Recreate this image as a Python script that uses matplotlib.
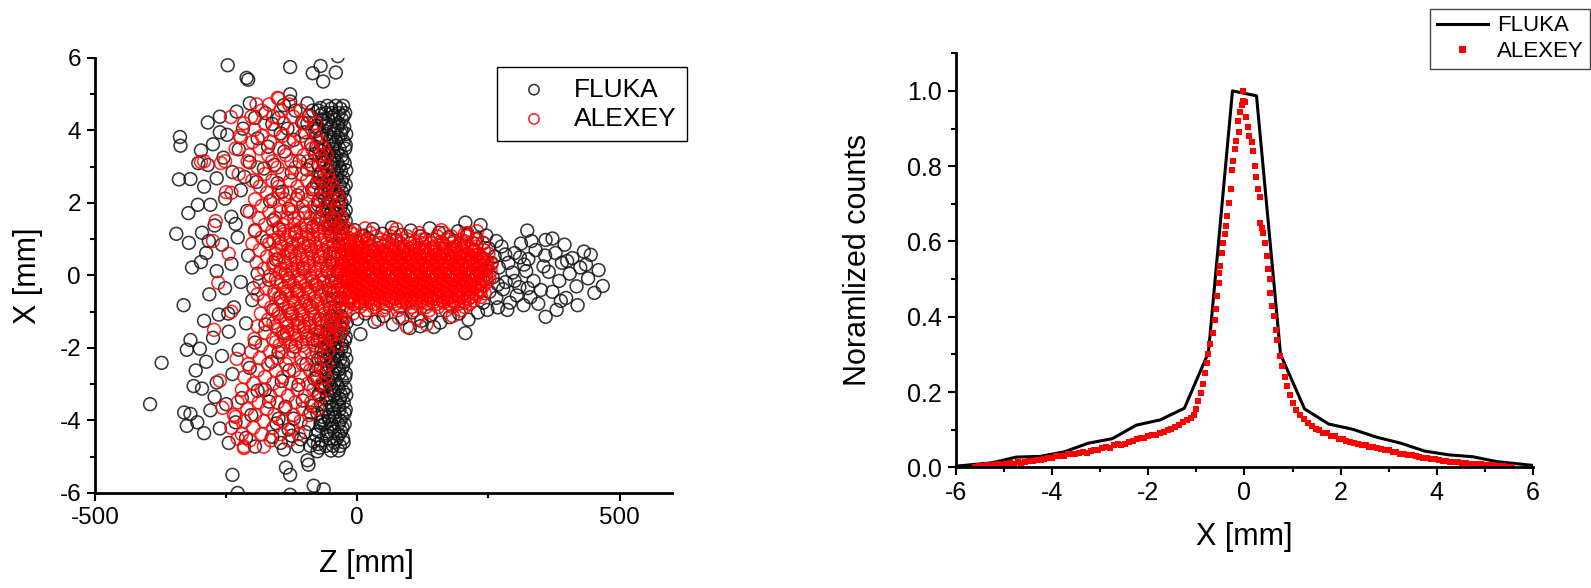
import numpy as np
import matplotlib.pyplot as plt
from matplotlib.ticker import MultipleLocator, FixedLocator, FormatStrFormatter

plt.rcParams['font.family'] = ['Liberation Sans', 'DejaVu Sans']
plt.rcParams['axes.unicode_minus'] = False

# ------------------------------------------------------------------
# left panel: particle positions, z [mm] vs x [mm]
# dense parts are stored as rows (x, [z, z, ...]), sparse parts as (z, x)
# ------------------------------------------------------------------
fluka_band_rows = [
    (4.68, [-57, -41, -27]), (4.60, [-50, -32]), (4.48, [-60, -48, -35, -23]),
    (4.40, [-45, -26]), (4.30, [-55, -42, -29]), (4.20, [-58, -36]),
    (4.10, [-62, -50, -37, -25]), (4.00, [-44, -30]), (3.90, [-58, -44, -31, -21]),
    (3.80, [-51, -36]), (3.70, [-53, -40, -26]), (3.60, [-46, -22]),
    (3.50, [-61, -47, -34, -23]), (3.40, [-54, -38]), (3.30, [-56, -43, -30]),
    (3.20, [-44, -28]), (3.10, [-63, -50, -38, -24]), (3.00, [-50, -35]),
    (2.90, [-57, -44, -31, -21]), (2.80, [-63, -38]), (2.70, [-52, -39, -27]),
    (2.60, [-45, -30]), (2.50, [-60, -47, -34, -22]), (2.40, [-53, -26]),
    (2.30, [-55, -42, -29]), (2.20, [-47, -35]), (2.10, [-62, -49, -36, -24]),
    (2.00, [-55, -30]), (1.90, [-57, -44, -31]), (1.80, [-48, -22]),
    (1.70, [-52, -39, -26]), (1.60, [-43, -28]), (1.50, [-59, -46, -33, -22]),
    (1.40, [-50, -36]), (1.30, [-55, -41, -28]), (1.10, [-50, -33]),
    (0.85, [-45, -28]), (0.60, [-52, -36]), (0.35, [-47, -30]), (0.10, [-55, -38]),
    (-0.15, [-49, -32]), (-0.40, [-54, -37]), (-0.65, [-46, -29]),
    (-0.90, [-52, -35]), (-1.12, [-48, -31]), (-1.30, [-57, -43, -29, -20]),
    (-1.40, [-47, -33]), (-1.50, [-53, -40, -26]), (-1.60, [-55, -31]),
    (-1.70, [-61, -47, -34, -22]), (-1.80, [-49, -24]), (-1.90, [-56, -42, -29]),
    (-2.00, [-44, -30]), (-2.10, [-63, -50, -37, -24]), (-2.20, [-52, -38]),
    (-2.30, [-58, -45, -32, -21]), (-2.40, [-46, -27]), (-2.50, [-53, -40, -27]),
    (-2.60, [-58, -35]), (-2.70, [-60, -47, -34, -22]), (-2.80, [-48, -23]),
    (-2.90, [-55, -42, -29]), (-3.00, [-53, -38]), (-3.10, [-62, -49, -36, -23]),
    (-3.20, [-45, -27]), (-3.30, [-57, -44, -31, -21]), (-3.40, [-59, -33]),
    (-3.50, [-52, -39, -26]), (-3.60, [-48, -35]), (-3.70, [-60, -47, -34, -22]),
    (-3.80, [-44, -24]), (-3.90, [-55, -42, -29]), (-4.00, [-53, -33]),
    (-4.10, [-62, -49, -36, -24]), (-4.20, [-47, -28]), (-4.30, [-57, -44, -31]),
    (-4.40, [-58, -35]), (-4.50, [-52, -39, -27]), (-4.60, [-44, -26]),
    (-4.70, [-60, -46, -33]), (-4.83, [-50, -36]),
]

fluka_band_edge = [
    (-74, 4.55), (-68, 4.30), (-76, 4.05), (-70, 3.80), (-78, 3.55), (-67, 3.30),
    (-74, 3.05), (-70, 2.80), (-77, 2.55), (-69, 2.30), (-74, 2.05), (-66, 1.80),
    (-72, 1.55), (-70, -1.55), (-76, -1.80), (-68, -2.05), (-74, -2.30),
    (-70, -2.55), (-77, -2.80), (-67, -3.05), (-73, -3.30), (-69, -3.55),
    (-76, -3.80), (-70, -4.05), (-74, -4.30), (-68, -4.55), (-72, -4.75),
]

fluka_halo = [
    (-70, 4.62), (-92, 4.41), (-118, 4.55), (-150, 4.35), (-175, 4.48),
    (-78, 4.12), (-105, 4.22), (-133, 4.05), (-162, 4.18), (-68, 3.82),
    (-88, 3.61), (-121, 3.74), (-146, 3.92), (-170, 3.55), (-81, 3.35),
    (-110, 3.15), (-139, 3.42), (-158, 3.05), (-96, 2.92), (-72, 2.70),
    (-125, 2.84), (-152, 2.55), (-178, 2.95), (-86, 2.38), (-113, 2.21),
    (-143, 2.31), (-166, 2.05), (-75, 1.95), (-99, 1.72), (-131, 1.84),
    (-160, 1.52), (-84, 1.35), (-117, 1.18), (-148, 1.27), (-172, 0.95),
    (-93, 0.82), (-126, 0.65), (-155, 0.44), (-70, 0.52), (-104, 0.21),
    (-137, 0.05), (-168, -0.12), (-80, -0.25), (-115, -0.43), (-146, -0.61),
    (-91, -0.82), (-124, -1.05), (-160, -0.95), (-73, -1.22), (-101, -1.41),
    (-134, -1.58), (-175, -1.35), (-85, -1.75), (-118, -1.96), (-150, -2.12),
    (-69, -2.28), (-97, -2.45), (-130, -2.62), (-163, -2.38), (-82, -2.85),
    (-112, -3.02), (-144, -2.91), (-176, -3.15), (-74, -3.28), (-104, -3.45),
    (-137, -3.62), (-168, -3.48), (-89, -3.78), (-121, -3.95), (-154, -4.08),
    (-70, -4.15), (-99, -4.32), (-131, -4.25), (-162, -4.45), (-83, -4.58),
    (-113, -4.71), (-146, -4.62), (-76, -4.85), (-108, -4.52), (-95, 4.75),
    (-128, 4.80), (-66, 4.30), (-140, 4.70), (-100, 3.95), (-65, 3.20),
    (-90, -4.70), (-125, -4.42), (-67, -3.90), (-140, -4.80), (-150, -3.95),
    (-68, 4.45), (-80, 3.98), (-72, 3.45), (-88, 3.05), (-66, 2.55),
    (-78, -2.60), (-70, -3.05), (-86, -3.60), (-66, -4.00), (-79, -4.40),
    (-92, -4.10), (-95, 4.20), (-85, 4.55), (-75, -4.65),
    (-205, 4.75), (-230, 4.52), (-262, 4.38), (-285, 4.22), (-195, 4.35),
    (-218, 4.05), (-248, 3.88), (-275, 3.62), (-298, 3.45), (-190, 3.78),
    (-226, 3.48), (-255, 3.25), (-285, 3.05), (-205, 3.12), (-238, 2.85),
    (-268, 2.68), (-292, 2.45), (-192, 2.58), (-222, 2.35), (-252, 2.12),
    (-280, 1.95), (-210, 1.78), (-240, 1.62), (-272, 1.38), (-296, 1.18),
    (-195, 1.25), (-228, 1.05), (-258, 0.85), (-288, 0.62), (-208, 0.55),
    (-240, 0.32), (-268, 0.12), (-190, 0.05), (-222, -0.18), (-252, -0.35),
    (-282, -0.52), (-200, -0.68), (-235, -0.88), (-264, -1.08), (-292, -1.25),
    (-212, -1.32), (-245, -1.55), (-275, -1.72), (-195, -1.85), (-226, -2.05),
    (-258, -2.22), (-288, -2.38), (-205, -2.55), (-238, -2.72), (-268, -2.95),
    (-296, -3.12), (-190, -3.18), (-220, -3.38), (-250, -3.55), (-280, -3.72),
    (-202, -3.85), (-232, -4.05), (-262, -4.22), (-292, -4.35), (-212, -4.48),
    (-245, -4.62), (-195, -4.72), (-272, -3.35), (-300, -2.02), (-283, 0.95),
    (-262, 3.95), (-215, 2.72), (-246, -1.05), (-198, -0.35), (-232, 1.42),
    (-338, 3.82), (-337, 3.58), (-318, 2.66), (-322, 1.72), (-304, 1.95),
    (-321, 0.90), (-298, 0.37), (-315, 0.22), (-331, -0.82), (-373, -2.41),
    (-318, -1.78), (-325, -2.05), (-308, -2.62), (-395, -3.55), (-330, -3.78),
    (-318, -3.82), (-325, -4.15), (-305, -4.05), (-340, 2.65), (-312, -3.05),
    (-345, 1.15), (-303, 3.10),
]

fluka_beam = [
    (-5, 1.25), (12, 1.10), (30, 1.28), (48, 1.15), (66, 1.32), (84, 1.12),
    (102, 1.24), (120, 1.08), (138, 1.30), (156, 1.18), (174, 1.05), (192, 1.22),
    (210, 1.12), (228, 1.02), (246, 1.10), (265, 0.95), (20, 1.02), (75, 0.98),
    (130, 1.00), (185, 0.95), (240, 0.90), (206, 1.46), (235, 1.39),
    (0, -1.20), (15, -1.05), (33, -1.28), (50, -1.12), (68, -1.35), (86, -1.18),
    (104, -1.02), (122, -1.25), (140, -1.10), (158, -1.30), (176, -1.15),
    (194, -1.05), (212, -1.22), (230, -1.02), (248, -0.95), (268, -0.88),
    (6, -1.62), (146, -1.42), (206, -1.59), (120, -1.40), (100, -1.45),
    (250, 0.75), (262, 0.52), (275, 0.80), (288, 0.35), (300, 0.62), (312, 0.88),
    (326, 0.45), (340, 0.70), (355, 0.25), (245, 0.15), (258, -0.05), (270, 0.22),
    (283, -0.18), (296, 0.08), (309, -0.32), (322, 0.12), (336, -0.15),
    (350, -0.40), (252, -0.45), (265, -0.62), (278, -0.38), (291, -0.75),
    (304, -0.55), (317, -0.82), (330, -0.60), (345, -0.78), (358, 0.55),
    (256, 0.35), (282, 0.58), (300, -0.15), (318, 0.30), (332, 0.95),
    (286, -0.95), (240, -0.75), (242, 0.45), (268, -0.25), (310, 0.50),
    (325, -0.35), (365, 0.10), (372, -0.45), (378, 0.62), (385, -0.15),
    (390, 0.35), (398, -0.62), (405, 0.05), (410, 0.48), (418, -0.30),
    (425, 0.22), (432, 0.66), (440, -0.08), (445, 0.57), (452, -0.48),
    (460, 0.15), (468, -0.29), (380, -0.95), (395, 0.85), (359, 0.98),
    (359, -1.14), (420, -0.82), (372, 1.02), (400, 0.40), (436, 0.30),
    (388, -0.70), (324, 1.24),
]

fluka_stray = [
    (-247, 5.80), (-211, 5.45), (-208, 5.40), (-128, 5.75), (-85, 5.58),
    (-70, 5.78), (-65, 5.35), (-41, 5.60), (-37, 6.05), (-128, 5.00),
    (-238, -5.50), (-228, -6.00), (-136, -5.30), (-128, -5.50), (-95, -5.10),
    (-93, -5.22), (-83, -5.80), (-64, -5.90), (-128, -6.05),
]

alexey_cloud_rows = [
    (4.88, [-150]), (4.72, [-192, -168, -130]), (4.55, [-182, -146, -108]),
    (4.38, [-202, -160, -122, -92]), (4.20, [-216, -176, -140, -102, -80]),
    (4.02, [-196, -158, -120, -86]), (3.85, [-224, -182, -142, -106, -78]),
    (3.68, [-200, -166, -130, -96, -70]), (3.50, [-232, -186, -150, -116, -86, -64]),
    (3.32, [-206, -170, -136, -102, -72, -58]),
    (3.15, [-292, -252, -209, -162, -126, -94, -66]),
    (2.98, [-190, -152, -118, -84, -60]), (2.80, [-226, -176, -142, -106, -74, -56]),
    (2.62, [-200, -162, -128, -96, -66, -52]), (2.45, [-186, -150, -114, -82, -58, -46]),
    (2.28, [-240, -172, -150, -128, -106, -84, -62, -40]),
    (2.10, [-195, -160, -138, -116, -94, -72, -50, -34]),
    (1.92, [-182, -148, -126, -104, -82, -60, -38]),
    (1.75, [-205, -168, -146, -124, -102, -80, -58, -36]),
    (1.58, [-188, -156, -134, -112, -90, -68, -46, -30]),
    (1.40, [-176, -142, -120, -98, -76, -54, -32]),
    (1.22, [-195, -162, -140, -118, -96, -74, -52, -30, -14]),
    (1.05, [-182, -150, -128, -106, -84, -62, -40, -18]),
    (0.88, [-200, -168, -146, -124, -102, -80, -58, -36, -14]),
    (0.70, [-186, -154, -132, -110, -88, -66, -44, -22]),
    (0.52, [-172, -140, -118, -96, -74, -52, -30, -10]),
    (0.35, [-192, -160, -138, -116, -94, -72, -50, -28]),
    (0.18, [-178, -146, -124, -102, -80, -58, -36, -14]),
    (0.00, [-166, -134, -112, -90, -68, -46, -24]),
    (-0.18, [-186, -152, -130, -108, -86, -64, -42, -20]),
    (-0.35, [-174, -140, -118, -96, -74, -52, -30]),
    (-0.52, [-190, -158, -136, -114, -92, -70, -48, -26]),
    (-0.70, [-178, -144, -122, -100, -78, -56, -34, -14]),
    (-0.88, [-164, -130, -108, -86, -64, -42, -20]),
    (-1.05, [-184, -150, -128, -106, -84, -62, -40]),
    (-1.22, [-170, -136, -114, -92, -70, -48, -26]),
    (-1.40, [-190, -156, -134, -112, -90, -68, -46, -30]),
    (-1.58, [-176, -142, -120, -98, -76, -54, -32]),
    (-1.75, [-196, -160, -138, -116, -94, -72, -50]),
    (-1.92, [-182, -148, -126, -104, -82, -60, -38]),
    (-2.10, [-202, -166, -144, -122, -100, -78, -56]),
    (-2.28, [-186, -152, -130, -108, -86, -64]),
    (-2.45, [-208, -170, -136, -104, -78, -58]), (-2.62, [-190, -155, -120, -90, -64]),
    (-2.80, [-215, -176, -142, -108, -80, -60]), (-2.98, [-198, -160, -126, -94, -68]),
    (-3.15, [-220, -182, -148, -114, -84, -62]), (-3.32, [-202, -166, -132, -100, -72]),
    (-3.50, [-228, -188, -152, -118, -88]), (-3.68, [-210, -172, -138, -104, -76]),
    (-3.85, [-235, -195, -158, -122, -92]), (-4.02, [-215, -178, -142, -108]),
    (-4.20, [-240, -198, -160, -124]), (-4.38, [-220, -182, -146, -112]),
    (-4.55, [-205, -165, -130]), (-4.72, [-216, -178]),
]

alexey_core_rows = [
    (1.58, [-120, -76, -44]),
    (1.31, [-150, -108, -86, -64, -42, -22]),
    (1.14, [-140, -118, -96, -74, -52, -30, -8]),
    (0.97, [-160, -135, -113, -91, -69, -47, -25, -5]),
    (0.79, [-145, -122, -100, -78, -56, -34, -12]),
    (0.61, [-156, -131, -109, -87, -65, -43, -21, -2]),
    (0.44, [-150, -127, -105, -83, -61, -39, -17]),
    (0.27, [-160, -135, -113, -91, -69, -47, -25, -6]),
    (0.09, [-148, -123, -101, -79, -57, -35, -13]),
    (-0.09, [-155, -130, -108, -86, -64, -42, -20, -4]),
    (-0.27, [-145, -121, -99, -77, -55, -33, -12]),
    (-0.44, [-158, -133, -111, -89, -67, -45, -23]),
    (-0.61, [-150, -125, -103, -81, -59, -37, -16]),
    (-0.79, [-142, -119, -97, -75, -53, -31, -8]),
    (-0.97, [-156, -131, -109, -87, -65, -43, -22]),
    (-1.14, [-148, -125, -103, -81, -59, -37]),
    (-1.31, [-160, -135, -113, -91, -69, -47, -30]),
    (-1.49, [-150, -124, -102, -80, -58, -38]),
    (-1.67, [-140, -118, -96, -74, -52]),
    (-1.84, [-155, -128, -106, -84, -62]),
]

alexey_beam_rows = [
    (1.17, [25, 70, 118, 165, 210]),
    (1.08, [8, 36, 63, 95, 121, 152, 179, 209]),
    (0.99, [-5, 21, 45, 72, 96, 123, 147, 175, 198, 225]),
    (0.94, [10, 55, 110, 160, 205]),
    (0.89, [-18, 3, 21, 43, 61, 83, 101, 123, 141, 163, 181, 203, 221, 240]),
    (0.80, [-12, 9, 27, 49, 67, 89, 107, 129, 147, 169, 187, 209, 227]),
    (0.75, [0, 22, 40, 62, 80, 100, 118, 140, 158, 178, 198, 218]),
    (0.70, [-25, -5, 12, 33, 50, 71, 88, 109, 126, 147, 164, 185, 202, 223, 241]),
    (0.65, [-8, 12, 31, 52, 69, 90, 107, 128, 146, 166, 184, 205, 222]),
    (0.60, [-16, 4, 21, 42, 59, 80, 97, 118, 135, 156, 173, 194, 211, 232, 250]),
    (0.55, [-20, 0, 18, 37, 56, 75, 94, 112, 131, 150, 170, 188, 207, 226]),
    (0.51, [-30, -10, 7, 28, 45, 66, 83, 104, 121, 142, 159, 180, 197, 218, 236]),
    (0.46, [-12, 8, 26, 46, 64, 84, 102, 122, 140, 160, 178, 198, 216, 235]),
    (0.41, [-21, -1, 16, 37, 54, 75, 92, 113, 130, 151, 168, 189, 206, 227, 245]),
    (0.36, [-16, 3, 21, 41, 59, 79, 97, 117, 135, 155, 173, 193, 211, 230, 248]),
    (0.31, [-27, -7, 10, 31, 48, 69, 86, 107, 124, 145, 162, 183, 200, 221, 239, 256]),
    (0.26, [-8, 11, 30, 49, 68, 87, 106, 125, 144, 163, 182, 201, 220, 238]),
    (0.21, [-18, 2, 19, 40, 57, 78, 95, 116, 133, 154, 171, 192, 209, 230, 248]),
    (0.16, [-20, -1, 18, 37, 56, 75, 94, 113, 132, 151, 170, 189, 208, 227, 245]),
    (0.11, [-30, -10, 7, 28, 45, 66, 83, 104, 121, 142, 159, 180, 197, 218, 236, 254]),
    (0.06, [-12, 7, 26, 45, 64, 83, 102, 121, 140, 159, 178, 197, 216, 234]),
    (0.01, [-22, -2, 15, 36, 53, 74, 91, 112, 129, 150, 167, 188, 205, 226, 244]),
    (-0.04, [-18, 1, 20, 39, 58, 77, 96, 115, 134, 153, 172, 191, 210, 229, 246]),
    (-0.09, [-28, -8, 9, 30, 47, 68, 85, 106, 123, 144, 161, 182, 199, 220, 238, 252]),
    (-0.14, [-8, 12, 30, 50, 68, 88, 106, 126, 144, 164, 182, 202, 220, 240]),
    (-0.19, [-17, 3, 20, 41, 58, 79, 96, 117, 134, 155, 172, 193, 210, 231, 247]),
    (-0.24, [-15, 4, 23, 42, 61, 80, 99, 118, 137, 156, 175, 194, 213, 232]),
    (-0.29, [-25, -5, 12, 33, 50, 71, 88, 109, 126, 147, 164, 185, 202, 223, 240]),
    (-0.34, [-5, 15, 33, 53, 71, 91, 109, 129, 147, 167, 185, 205, 224]),
    (-0.39, [-14, 6, 23, 44, 61, 82, 99, 120, 137, 158, 175, 196, 213, 233]),
    (-0.44, [-12, 7, 26, 45, 64, 83, 102, 121, 140, 159, 178, 197, 216, 235]),
    (-0.49, [-22, -2, 15, 36, 53, 74, 91, 112, 129, 150, 167, 188, 205, 226, 243]),
    (-0.54, [0, 19, 38, 57, 76, 95, 114, 133, 152, 171, 190, 209, 228]),
    (-0.59, [-10, 10, 27, 48, 65, 86, 103, 124, 141, 162, 179, 200, 217, 236]),
    (-0.64, [-8, 12, 32, 52, 72, 92, 112, 132, 152, 172, 192, 212]),
    (-0.69, [-18, 3, 21, 43, 61, 83, 101, 123, 141, 163, 181, 203, 222]),
    (-0.74, [5, 25, 45, 65, 85, 105, 125, 145, 165, 185, 205]),
    (-0.78, [-6, 15, 33, 55, 73, 95, 113, 135, 153, 175, 193, 214]),
    (-0.87, [5, 31, 54, 81, 104, 131, 154, 181, 205]),
    (-0.96, [18, 49, 77, 109, 137, 169, 198]),
]

alexey_stray = [
    (228, 1.22), (160, 1.25), (75, 1.28), (15, 1.30), (205, 1.15),
    (115, -1.18), (182, -1.12), (40, -1.22), (-8, -1.05), (132, -1.35),
    (95, -1.42), (79, -1.17), (-260, 3.10), (-250, 2.30), (-270, 1.50),
    (-245, 0.60), (-265, -0.20), (-240, -1.00), (-273, -1.50), (-230, -2.30),
    (-262, -2.90), (-257, -3.65), (-228, -4.50), (-222, 3.80), (-275, 0.95),
    (-232, -3.90), (-216, -4.76), (-298, 3.13), (-152, 4.90), (-241, 4.37),
]

# ------------------------------------------------------------------
# right panel: normalized transverse profiles
# ------------------------------------------------------------------
fluka_bin_x = [-6.0, -5.25, -4.75, -4.25, -3.75, -3.25, -2.75, -2.25, -1.75, -1.25,
               -0.75, -0.25, 0.25, 0.75, 1.25, 1.75, 2.25, 2.75, 3.25, 3.75,
               4.25, 4.75, 5.25, 6.0]
fluka_counts = [0.003, 0.012, 0.027, 0.029, 0.041, 0.064, 0.076, 0.112, 0.126, 0.157,
                0.305, 1.000, 0.987, 0.300, 0.155, 0.115, 0.101, 0.080, 0.064, 0.043,
                0.033, 0.028, 0.015, 0.005]

alexey_x = [
    -5.60, -5.52, -5.44, -5.36, -5.28, -5.20, -5.12, -5.04, -4.96, -4.88,
    -4.80, -4.72, -4.64, -4.56, -4.48, -4.40, -4.32, -4.24, -4.16, -4.08,
    -4.00, -3.92, -3.84, -3.76, -3.68, -3.60, -3.52, -3.44, -3.36, -3.28,
    -3.20, -3.12, -3.04, -2.96, -2.88, -2.80, -2.72, -2.64, -2.56, -2.48,
    -2.40, -2.32, -2.24, -2.16, -2.08, -2.00, -1.92, -1.84, -1.76, -1.68,
    -1.60, -1.52, -1.44, -1.36, -1.28, -1.20,
    -1.12, -1.06, -1.00, -0.96, -0.91, -0.87, -0.82, -0.78, -0.75, -0.72,
    -0.66, -0.62, -0.59, -0.57, -0.54, -0.52, -0.50, -0.47, -0.44, -0.41,
    -0.39, -0.36, -0.32, -0.29, -0.25, -0.23, -0.20, -0.17, -0.11, -0.13,
    -0.10, -0.06, -0.04, -0.03,
    0.01, 0.04, 0.07, 0.10, 0.15, 0.18, 0.22, 0.25, 0.29, 0.32,
    0.33, 0.36, 0.39, 0.42, 0.46, 0.49, 0.53, 0.54, 0.58, 0.61,
    0.65, 0.68, 0.74, 0.79, 0.84, 0.89, 0.94, 1.01, 1.08, 1.16,
    1.24, 1.32,
    1.40, 1.48, 1.56, 1.64, 1.72, 1.80, 1.88, 1.96, 2.04, 2.12,
    2.20, 2.28, 2.36, 2.44, 2.52, 2.60, 2.68, 2.76, 2.84, 2.92,
    3.00, 3.08, 3.16, 3.24, 3.32, 3.40, 3.48, 3.56, 3.64, 3.72,
    3.80, 3.88, 3.96, 4.04, 4.12, 4.20, 4.28, 4.36, 4.44, 4.52,
    4.60, 4.68, 4.76, 4.84, 4.92, 5.00, 5.08, 5.16, 5.24, 5.32,
    5.40, 5.48, 5.56,
]
alexey_counts = [
    0.002, 0.003, 0.003, 0.005, 0.004, 0.006, 0.008, 0.007, 0.009, 0.011,
    0.010, 0.013, 0.012, 0.015, 0.017, 0.016, 0.020, 0.019, 0.023, 0.025,
    0.025, 0.029, 0.031, 0.030, 0.034, 0.036, 0.036, 0.039, 0.041, 0.039,
    0.043, 0.046, 0.045, 0.050, 0.053, 0.052, 0.058, 0.061, 0.058, 0.063,
    0.067, 0.070, 0.074, 0.077, 0.078, 0.083, 0.086, 0.085, 0.091, 0.094,
    0.098, 0.102, 0.107, 0.113, 0.119, 0.126,
    0.131, 0.140, 0.156, 0.176, 0.197, 0.222, 0.250, 0.276, 0.302, 0.328,
    0.357, 0.392, 0.420, 0.454, 0.490, 0.516, 0.536, 0.570, 0.597, 0.620,
    0.641, 0.668, 0.703, 0.739, 0.790, 0.814, 0.846, 0.868, 0.890, 0.921,
    0.943, 0.962, 1.000, 0.974,
    0.970, 0.930, 0.905, 0.881, 0.863, 0.841, 0.801, 0.770, 0.739, 0.717,
    0.650, 0.636, 0.623, 0.597, 0.561, 0.526, 0.499, 0.464, 0.428, 0.401,
    0.366, 0.339, 0.295, 0.268, 0.241, 0.215, 0.193, 0.170, 0.152, 0.138,
    0.128, 0.118,
    0.110, 0.103, 0.100, 0.092, 0.091, 0.084, 0.083, 0.076, 0.075, 0.070,
    0.068, 0.064, 0.062, 0.058, 0.058, 0.054, 0.054, 0.050, 0.049, 0.045,
    0.045, 0.041, 0.040, 0.036, 0.036, 0.033, 0.032, 0.029, 0.028, 0.025,
    0.025, 0.022, 0.021, 0.019, 0.018, 0.016, 0.015, 0.013, 0.013, 0.011,
    0.011, 0.009, 0.009, 0.008, 0.008, 0.006, 0.006, 0.005, 0.004, 0.004,
    0.003, 0.002, 0.002,
]


def from_rows(rows):
    z = [v for x, zs in rows for v in zs]
    x = [x for x, zs in rows for _ in zs]
    return z, x


def from_pairs(pairs):
    return [p[0] for p in pairs], [p[1] for p in pairs]


def collect(*parts):
    z, x = [], []
    for pz, px in parts:
        z += pz
        x += px
    return np.array(z, float), np.array(x, float)


fluka_z, fluka_xpos = collect(from_rows(fluka_band_rows), from_pairs(fluka_band_edge),
                              from_pairs(fluka_halo), from_pairs(fluka_beam),
                              from_pairs(fluka_stray))
alexey_z, alexey_xpos = collect(from_rows(alexey_cloud_rows), from_rows(alexey_core_rows),
                                from_rows(alexey_beam_rows), from_pairs(alexey_stray))


def style_axes(ax, labelsize):
    for side in ['top', 'right']:
        ax.spines[side].set_visible(False)
    for side in ['left', 'bottom']:
        ax.spines[side].set_linewidth(2)
    ax.tick_params(which='both', direction='out', width=1.5, labelsize=labelsize,
                   top=False, right=False, pad=4)
    ax.tick_params(which='major', length=6)
    ax.tick_params(which='minor', length=3.5)


fig = plt.figure(figsize=(15.91, 5.88), dpi=100)

# --- scatter of particle positions ---
ax1 = fig.add_axes([0.0597, 0.1616, 0.3627, 0.7398])
ax1.scatter(fluka_z, fluka_xpos, s=85, facecolors='none', edgecolors='#141414',
            linewidths=1.15, alpha=0.85, label='FLUKA')
ax1.scatter(alexey_z, alexey_xpos, s=85, facecolors='none', edgecolors='#ff0000',
            linewidths=1.15, alpha=0.85, label='ALEXEY')
ax1.set_xlim(-500, 600)
ax1.set_ylim(-6, 6)
ax1.xaxis.set_major_locator(MultipleLocator(500))
ax1.xaxis.set_minor_locator(MultipleLocator(250))
ax1.yaxis.set_major_locator(MultipleLocator(2))
ax1.yaxis.set_minor_locator(MultipleLocator(1))
style_axes(ax1, 17.5)
ax1.set_xlabel('Z [mm]', fontsize=22)
ax1.set_ylabel('X [mm]', fontsize=22)
ax1.xaxis.set_label_coords(0.47, -0.128)
ax1.yaxis.set_label_coords(-0.09, 0.5)
leg1 = ax1.legend(loc='upper left', bbox_to_anchor=(0.3124, 0.886),
                  bbox_transform=fig.transFigure, fontsize=19, fancybox=False,
                  edgecolor='black', framealpha=1, borderpad=0.4, labelspacing=0.2,
                  handlelength=2.0, handletextpad=0.5, borderaxespad=0,
                  scatterpoints=1, markerscale=0.8)
leg1.get_frame().set_linewidth(1.0)

# --- normalized profiles ---
ax2 = fig.add_axes([0.6009, 0.2053, 0.3626, 0.7041])
ax2.plot(fluka_bin_x, fluka_counts, color='black', lw=2.2, label='FLUKA')
ax2.plot(alexey_x, alexey_counts, ls='none', marker='s', ms=4.2, mfc='red',
         mec='red', mew=0, label='ALEXEY')
ax2.set_xlim(-6, 6)
ax2.set_ylim(0, 1.1)
ax2.xaxis.set_major_locator(MultipleLocator(2))
ax2.xaxis.set_minor_locator(MultipleLocator(1))
ax2.yaxis.set_major_locator(MultipleLocator(0.2))
ax2.yaxis.set_minor_locator(FixedLocator([0.1, 0.3, 0.5, 0.7, 0.9, 1.1]))
ax2.yaxis.set_major_formatter(FormatStrFormatter('%.1f'))
style_axes(ax2, 18)
ax2.set_xlabel('X [mm]', fontsize=22)
ax2.set_ylabel('Noramlized counts', fontsize=22)
ax2.xaxis.set_label_coords(0.5, -0.132)
ax2.yaxis.set_label_coords(-0.144, 0.5)
leg2 = ax2.legend(loc='upper right', bbox_to_anchor=(0.9995, 0.985),
                  bbox_transform=fig.transFigure, fontsize=16, fancybox=False,
                  edgecolor='#444444', framealpha=1, borderpad=0.3, labelspacing=0.2,
                  handlelength=2.3, handletextpad=0.4, borderaxespad=0,
                  numpoints=1, markerscale=1.2)
leg2.get_frame().set_linewidth(1.0)

fig.savefig('out.png', dpi=100)
